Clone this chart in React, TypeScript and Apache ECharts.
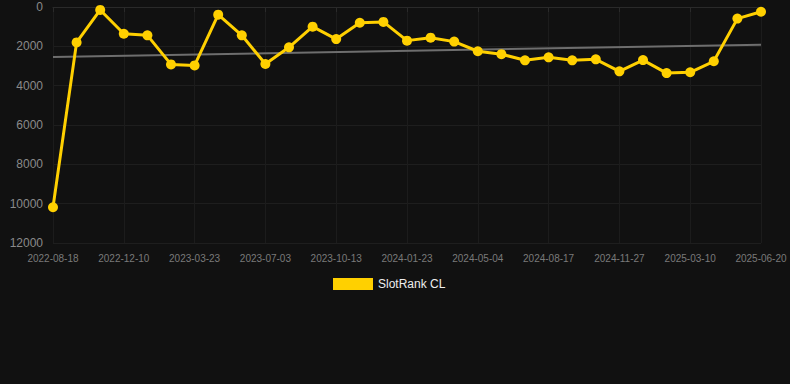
import React, { useEffect, useRef } from "react";
import * as echarts from "echarts";

const dates = [
  "2022-08-18", "2022-09-26", "2022-11-03", "2022-12-10", "2023-01-13", "2023-02-17",
  "2023-03-23", "2023-04-26", "2023-05-30", "2023-07-03", "2023-08-06", "2023-09-09",
  "2023-10-13", "2023-11-16", "2023-12-20", "2024-01-23", "2024-02-26", "2024-03-31",
  "2024-05-04", "2024-06-08", "2024-07-13", "2024-08-17", "2024-09-20", "2024-10-24",
  "2024-11-27", "2024-12-31", "2025-02-04", "2025-03-10", "2025-04-13", "2025-05-17",
  "2025-06-20",
];

const rankValues = [
  10180, 1800, 150, 1360, 1440, 2920, 2970, 390, 1440, 2900,
  2050, 1000, 1630, 800, 760, 1710, 1560, 1760, 2250, 2400,
  2710, 2560, 2710, 2660, 3270, 2700, 3360, 3320, 2760, 590,
  240,
];

const trendStart = 2540;
const trendEnd = 1920;

export default function App() {
  const ref = useRef<HTMLDivElement>(null);
  useEffect(() => {
    document.body.style.margin = "0";
    document.body.style.background = "#111111";
    const chart = echarts.init(ref.current!, undefined, { renderer: "svg" });
    const trendData = dates.map((_, i) =>
      i === 0 ? trendStart : i === dates.length - 1 ? trendEnd : null
    );
    chart.setOption({
      animation: false,
      backgroundColor: "#111111",
      grid: { left: 53, right: 29, top: 7, bottom: 141, containLabel: false },
      legend: {
        data: ["SlotRank CL"],
        left: 328,
        top: 273,
        itemWidth: 40,
        itemHeight: 12,
        icon: "rect",
        textStyle: { color: "#eeeeee", fontSize: 12, fontFamily: "Arial, Liberation Sans, sans-serif" },
      },
      xAxis: {
        type: "category",
        data: dates,
        boundaryGap: false,
        axisLine: { lineStyle: { color: "#2a2a2a" } },
        axisTick: { show: true, interval: 2, lineStyle: { color: "#2a2a2a" } },
        axisLabel: {
          interval: 2,
          color: "#7a7a7a",
          fontSize: 10,
          margin: 10,
          fontFamily: "Arial, Liberation Sans, sans-serif",
        },
        splitLine: { show: true, interval: 2, lineStyle: { color: "#1c1c1c" } },
      },
      yAxis: {
        type: "value",
        inverse: true,
        min: 0,
        max: 12000,
        interval: 2000,
        axisLine: { show: false },
        axisTick: { show: false },
        axisLabel: {
          color: "#8a8a8a",
          fontSize: 12,
          margin: 10,
          formatter: (v: number) => String(v),
          fontFamily: "Arial, Liberation Sans, sans-serif",
        },
        splitLine: { lineStyle: { color: "#1e1e1e" } },
      },
      series: [
        {
          name: "Trend",
          type: "line",
          data: trendData,
          connectNulls: true,
          symbol: "none",
          lineStyle: { color: "#6e6e6e", width: 2 },
          z: 1,
        },
        {
          name: "SlotRank CL",
          type: "line",
          data: rankValues,
          symbol: "circle",
          symbolSize: 10,
          itemStyle: { color: "#ffd000" },
          lineStyle: { color: "#ffd000", width: 3 },
          z: 2,
        },
      ],
    });
    return () => chart.dispose();
  }, []);
  return <div ref={ref} style={{ width: 790, height: 384 }} />;
}
